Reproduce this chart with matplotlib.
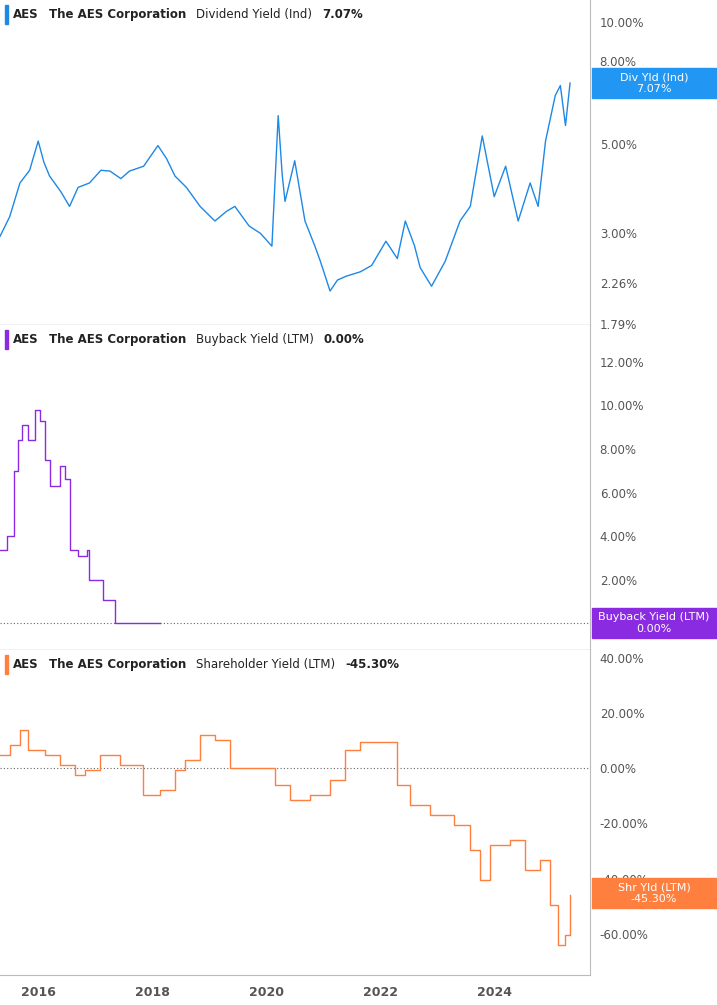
import matplotlib
matplotlib.use('Agg')
import matplotlib.pyplot as plt
from matplotlib.patches import Rectangle
from matplotlib.ticker import FixedLocator, NullLocator

# dividend yield (Ind), %
div_x = [2015.33, 2015.5, 2015.68, 2015.85, 2016.0, 2016.1, 2016.2, 2016.4, 2016.55, 2016.7, 2016.9, 2017.1,
         2017.26, 2017.45, 2017.6, 2017.85, 2018.1, 2018.25, 2018.4, 2018.6, 2018.84, 2019.1, 2019.3, 2019.45,
         2019.7, 2019.9, 2020.1, 2020.21, 2020.28, 2020.33, 2020.5, 2020.68, 2020.85, 2020.95, 2021.12, 2021.25,
         2021.4, 2021.65, 2021.85, 2022.1, 2022.3, 2022.44, 2022.6, 2022.7, 2022.9, 2023.14, 2023.4, 2023.58,
         2023.79, 2024.0, 2024.2, 2024.42, 2024.63, 2024.77, 2024.9, 2025.07, 2025.16, 2025.25, 2025.33]
div_y = [2.95, 3.3, 4.0, 4.3, 5.08, 4.5, 4.16, 3.8, 3.5, 3.9, 4.0, 4.3,
         4.28, 4.1, 4.28, 4.4, 4.95, 4.6, 4.16, 3.9, 3.5, 3.22, 3.4, 3.5,
         3.13, 3.0, 2.79, 5.87, 4.2, 3.6, 4.54, 3.22, 2.8, 2.56, 2.16, 2.3,
         2.35, 2.41, 2.5, 2.87, 2.6, 3.22, 2.8, 2.47, 2.22, 2.56, 3.22, 3.5,
         5.23, 3.7, 4.4, 3.22, 4.0, 3.5, 5.08, 6.58, 6.97, 5.55, 7.07]

# buyback yield (LTM), % (step series)
bb_x = [2015.33, 2015.45, 2015.58, 2015.65, 2015.72, 2015.82, 2015.95, 2016.03, 2016.12, 2016.2, 2016.38,
        2016.47, 2016.56, 2016.7, 2016.85, 2016.9, 2017.14, 2017.35, 2018.14]
bb_y = [3.35, 4.0, 7.0, 8.4, 9.1, 8.4, 9.8, 9.3, 7.5, 6.3, 7.2,
        6.6, 3.35, 3.1, 3.35, 2.0, 1.05, 0.0, 0.0]

# shareholder yield (LTM), %
sh_x = [2015.33, 2015.5, 2015.68, 2015.82, 2016.12, 2016.38, 2016.65, 2016.82, 2017.08, 2017.43, 2017.84,
        2018.14, 2018.4, 2018.58, 2018.84, 2019.1, 2019.37, 2019.9, 2020.15, 2020.42, 2020.77, 2021.12,
        2021.38, 2021.65, 2022.17, 2022.3, 2022.52, 2022.87, 2023.3, 2023.57, 2023.75, 2023.93, 2024.28,
        2024.54, 2024.8, 2024.98, 2025.12, 2025.25, 2025.33]
sh_y = [4.7, 8.3, 13.8, 6.5, 4.7, 1.1, -2.5, -0.7, 4.7, 1.1, -9.8,
        -8.0, -0.7, 2.9, 12.0, 10.1, 0.0, 0.0, -6.2, -11.6, -9.8, -4.3,
        6.5, 9.4, 9.4, -6.2, -13.4, -17.0, -20.7, -29.7, -40.6, -27.9, -26.1,
        -37.0, -33.3, -49.6, -64.0, -60.5, -46.0]

years = [2016, 2018, 2020, 2022, 2024]

W, H = 717, 1005
fig = plt.figure(figsize=(W / 100, H / 100), dpi=100)
grey = '#555555'
axw = 590 / W

def make_ax(top, bottom):
    ax = fig.add_axes([0, 1 - bottom / H, axw, (bottom - top) / H])
    ax.set_xlim(2015.33, 2025.68)
    for s in ['left', 'top', 'bottom']:
        ax.spines[s].set_visible(False)
    ax.spines['right'].set_color('#bbbbbb')
    ax.yaxis.tick_right()
    ax.tick_params(axis='y', length=0, labelsize=8.5, colors=grey, pad=7)
    ax.set_xticks(years)
    ax.tick_params(axis='x', length=0, labelbottom=False)
    ax.axhline(ax.get_ylim()[0], color='#bbbbbb', lw=1)
    return ax

def legend(ax, color, name, val):
    y = 0.955
    ax.add_patch(Rectangle((0.008, y - 0.03), 0.006, 0.06, transform=ax.transAxes, color=color, clip_on=False))
    x = 0.022
    for txt, w in [('AES', 'bold'), ('The AES Corporation', 'bold'), (name, 'normal'), (val, 'bold')]:
        t = ax.text(x, y, txt, transform=ax.transAxes, va='center', fontsize=8.5, fontweight=w, color='#222222')
        fig.canvas.draw()
        bb = t.get_window_extent()
        x += (bb.width + 10) / (axw * W)

def right_box(ax, yval, color, l1, l2):
    yd = ax.transData.transform((0, yval))[1]
    ypx = H - yd
    fig.patches.append(Rectangle((592 / W, 1 - (ypx + 15) / H), 125 / W, 30 / H, transform=fig.transFigure,
                                 color=color, zorder=5))
    fig.text(654 / W, 1 - (ypx - 6) / H, l1, ha='center', va='center', color='white', fontsize=8, zorder=6)
    fig.text(654 / W, 1 - (ypx + 6) / H, l2, ha='center', va='center', color='white', fontsize=8, zorder=6)

# panel 1
ax1 = fig.add_axes([0, 1 - 325 / H, axw, 325 / H])
ax1.set_yscale('log')
ax1.set_ylim(1.78, 11.35)
ax1.set_xlim(2015.33, 2025.68)
for s in ['left', 'top', 'bottom']:
    ax1.spines[s].set_visible(False)
ax1.spines['right'].set_color('#bbbbbb')
ax1.yaxis.tick_right()
ax1.yaxis.set_major_locator(FixedLocator([1.79, 2.26, 3.0, 5.0, 8.0, 10.0]))
ax1.yaxis.set_minor_locator(NullLocator())
ax1.set_yticklabels(['1.79%', '2.26%', '3.00%', '5.00%', '8.00%', '10.00%'])
ax1.tick_params(axis='y', which='both', length=0, labelsize=8.5, colors=grey, pad=7)
ax1.set_xticks([])
ax1.axhline(1.78, color='#bbbbbb', lw=1)
ax1.plot(div_x, div_y, color='#1e88e5', lw=1)
legend(ax1, '#1e88e5', 'Dividend Yield (Ind)', '7.07%')

# panel 2
ax2 = fig.add_axes([0, 1 - 650 / H, axw, 325 / H])
ax2.set_ylim(-1.24, 13.7)
ax2.set_xlim(2015.33, 2025.68)
for s in ['left', 'top', 'bottom']:
    ax2.spines[s].set_visible(False)
ax2.spines['right'].set_color('#bbbbbb')
ax2.yaxis.tick_right()
ax2.set_yticks([2, 4, 6, 8, 10, 12])
ax2.set_yticklabels(['%.2f%%' % v for v in [2, 4, 6, 8, 10, 12]])
ax2.tick_params(axis='y', length=0, labelsize=8.5, colors=grey, pad=7)
ax2.set_xticks([])
ax2.axhline(-1.24, color='#bbbbbb', lw=1)
ax2.axhline(0, color='#666666', lw=0.8, ls=(0, (1, 2)))
ax2.step(bb_x, bb_y, where='post', color='#8a2be2', lw=1)
legend(ax2, '#8a2be2', 'Buyback Yield (LTM)', '0.00%')

# panel 3
ax3 = fig.add_axes([0, 1 - 975 / H, axw, 325 / H])
ax3.set_ylim(-75, 42.9)
ax3.set_xlim(2015.33, 2025.68)
for s in ['left', 'top']:
    ax3.spines[s].set_visible(False)
ax3.spines['bottom'].set_color('#bbbbbb')
ax3.spines['right'].set_color('#bbbbbb')
ax3.yaxis.tick_right()
ax3.set_yticks([-60, -40, -20, 0, 20, 40])
ax3.set_yticklabels(['%.2f%%' % v for v in [-60, -40, -20, 0, 20, 40]])
ax3.tick_params(axis='y', length=0, labelsize=8.5, colors=grey, pad=7)
ax3.set_xticks(years)
ax3.set_xticklabels([str(y) for y in years], fontweight='bold')
ax3.tick_params(axis='x', length=0, labelsize=9, colors=grey, pad=8)
ax3.axhline(0, color='#666666', lw=0.8, ls=(0, (1, 2)))
ax3.step(sh_x, sh_y, where='post', color='#ff7f3f', lw=1)
legend(ax3, '#ff7f3f', 'Shareholder Yield (LTM)', '-45.30%')

right_box(ax1, 7.07, '#2196f3', 'Div Yld (Ind)', '7.07%')
right_box(ax2, 0.0, '#8a2be2', 'Buyback Yield (LTM)', '0.00%')
right_box(ax3, -45.3, '#ff7f3f', 'Shr Yld (LTM)', '-45.30%')

fig.savefig('out.png', dpi=100)
